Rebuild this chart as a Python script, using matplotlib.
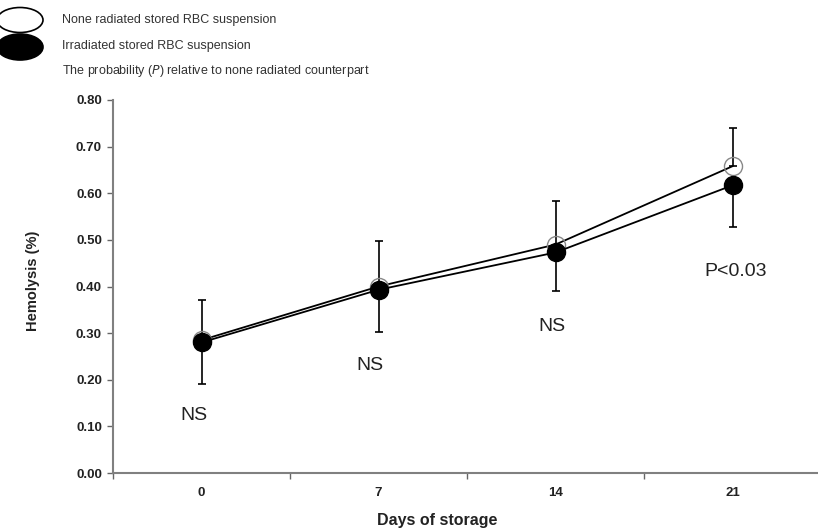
import matplotlib
matplotlib.use("Agg")
import matplotlib.pyplot as plt
from matplotlib.patches import Ellipse
from matplotlib.ticker import FixedLocator, FormatStrFormatter

plt.rcParams['font.family'] = ['Liberation Sans', 'DejaVu Sans']

days = ["0", "7", "14", "21"]
none_radiated = [0.285, 0.400, 0.490, 0.658]
irradiated = [0.280, 0.393, 0.473, 0.617]
none_err_up = [0.085, 0.098, 0.093, 0.082]
irr_err_down = [0.090, 0.090, 0.083, 0.090]
sig_labels = ["NS", "NS", "NS", "P<0.03"]
sig_y = [0.124, 0.230, 0.315, 0.433]
sig_dx = [-0.04, -0.05, -0.02, 0.02]
yticks = [0.0, 0.1, 0.2, 0.3, 0.4, 0.5, 0.6, 0.7, 0.8]

W, H = 818, 529
fig = plt.figure(figsize=(W / 100, H / 100), dpi=100)
ax = fig.add_axes([113 / W, (H - 473) / H, 708 / W, 373 / H])

x = list(range(len(days)))
zeros = [0] * len(days)

ax.errorbar(x, none_radiated, yerr=[zeros, none_err_up], fmt='none', ecolor='black',
            elinewidth=1.2, capsize=3, capthick=1.2, zorder=2)
ax.errorbar(x, irradiated, yerr=[irr_err_down, zeros], fmt='none', ecolor='black',
            elinewidth=1.2, capsize=3, capthick=1.2, zorder=2)
ax.plot(x, none_radiated, color='black', lw=1.3, marker='o', markersize=13,
        markerfacecolor='none', markeredgecolor='#888888', markeredgewidth=1.0, zorder=3)
ax.plot(x, irradiated, color='black', lw=1.3, marker='o', markersize=13,
        markerfacecolor='black', markeredgecolor='black', zorder=4)

for i, (lab, yy, dx) in enumerate(zip(sig_labels, sig_y, sig_dx)):
    ax.text(i + dx, yy, lab, ha='center', va='center', fontsize=14, color='#222222')

ax.set_xlim(-0.5, 3.5)
ax.set_ylim(0, 0.8)
ax.set_xticks(x)
ax.set_xticklabels(days, fontsize=9.5, fontweight='bold', color='#222222')
ax.xaxis.set_minor_locator(FixedLocator([-0.5, 0.5, 1.5, 2.5]))
ax.tick_params(axis='x', which='major', length=0, pad=10)
ax.tick_params(axis='x', which='minor', length=4, width=1, color='#666666', direction='out')
ax.set_yticks(yticks)
ax.yaxis.set_major_formatter(FormatStrFormatter('%.2f'))
ax.tick_params(axis='y', length=4, width=1, color='#666666', direction='out', pad=4)
for lab in ax.get_yticklabels():
    lab.set_fontsize(9.5)
    lab.set_fontweight('bold')
    lab.set_color('#222222')

for s in ['top', 'right']:
    ax.spines[s].set_visible(False)
for s in ['left', 'bottom']:
    ax.spines[s].set_color('#808080')
    ax.spines[s].set_linewidth(1.5)

fig.text(437 / W, 1 - 520 / H, "Days of storage", ha='center', va='center',
         fontsize=11.5, fontweight='bold', color='#222222')
fig.text(33 / W, 1 - 281 / H, "Hemolysis (%)", ha='center', va='center', rotation=90,
         fontsize=10.5, fontweight='bold', color='#222222')

# legend
e1 = Ellipse((20 / W, 1 - 20 / H), 46 / W, 25 / H, transform=fig.transFigure,
             facecolor='white', edgecolor='black', lw=1.2)
e2 = Ellipse((20 / W, 1 - 47 / H), 46 / W, 26 / H, transform=fig.transFigure,
             facecolor='black', edgecolor='black', lw=1.2)
fig.add_artist(e1)
fig.add_artist(e2)
leg_col = '#333333'
fig.text(62 / W, 1 - 20 / H, "None radiated stored RBC suspension", ha='left', va='center',
         fontsize=9, color=leg_col)
fig.text(62 / W, 1 - 46 / H, "Irradiated stored RBC suspension", ha='left', va='center',
         fontsize=9, color=leg_col)
fig.text(62 / W, 1 - 71 / H, "The probability ($\\it{P}$) relative to none radiated counterpart",
         ha='left', va='center', fontsize=9, color=leg_col)

fig.savefig("out.png", dpi=100)
